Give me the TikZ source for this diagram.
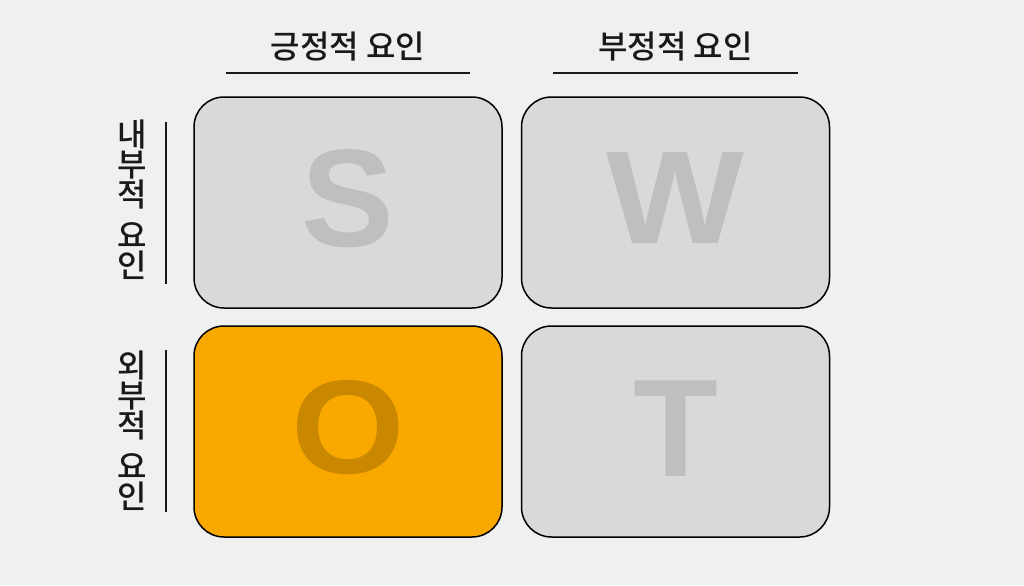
\documentclass[tikz,border=0pt]{standalone}
\usepackage{fontspec}
\newfontfamily\krfont{Noto Sans CJK KR Medium}
\newfontfamily\letterfont{Liberation Sans}
\usetikzlibrary{positioning}

\definecolor{pagegray}{HTML}{F0F0F0}
\definecolor{boxgray}{HTML}{D9D9D9}
\definecolor{lettergray}{HTML}{BFBFBF}
\definecolor{swotorange}{HTML}{F9A800}
\definecolor{darkorange}{HTML}{C98800}

\begin{document}
\begin{tikzpicture}[x=0.5pt,y=-0.5pt,
    quad/.style={draw=black,line width=0.75pt,rounded corners=15pt,
        minimum width=154pt,minimum height=105.5pt,fill=boxgray},
    letter/.style={text=lettergray,inner sep=0pt,
        font=\letterfont\bfseries\fontsize{69.5}{69.5}\selectfont},
    head/.style={font=\krfont\fontsize{16}{16}\selectfont,text=black!90},
    side/.style={font=\krfont\fontsize{16}{15}\selectfont,text=black!90,align=center},
    rule/.style={line width=1pt,black!90}]

    \fill[pagegray] (0,0) rectangle (1024,585);

    % quadrants
    \node[quad] (s) at (348,202.5) {};
    \node[quad] (w) at (675.5,202.5) {};
    \node[quad,fill=swotorange] (o) at (348,431.5) {};
    \node[quad] (t) at (675.5,431.5) {};
    \node[letter] (sl) at ([yshift=2pt]s.center) {S};
    \node[letter,xscale=1.05,yscale=0.95] (wl) at ([yshift=2pt]w.center) {W};
    \node[letter,xscale=1.05,yscale=0.96,text=darkorange] (ol) at ([yshift=2pt]o.center) {O};
    \node[letter] (tl) at ([yshift=1.5pt]t.center) {T};

    % column headers
    \node[head] (pos) at (348,47) {긍정적 요인};
    \node[head] (neg) at (675.5,47) {부정적 요인};
    \coordinate (posl) at (226,73);
    \coordinate (posr) at (470,73);
    \coordinate (negl) at (553,73);
    \coordinate (negr) at (798,73);
    \draw[rule] (posl) -- (posr);
    \draw[rule] (negl) -- (negr);

    % row headers
    \node[side] (int) at (132,199.5) {내\\부\\적\\[5.5pt]요\\인};
    \node[side] (ext) at (132,430.5) {외\\부\\적\\[5.5pt]요\\인};
    \coordinate (intt) at (166,122);
    \coordinate (intb) at (166,284);
    \coordinate (extt) at (166,350);
    \coordinate (extb) at (166,512);
    \draw[rule] (intt) -- (intb);
    \draw[rule] (extt) -- (extb);

\end{tikzpicture}
\end{document}
